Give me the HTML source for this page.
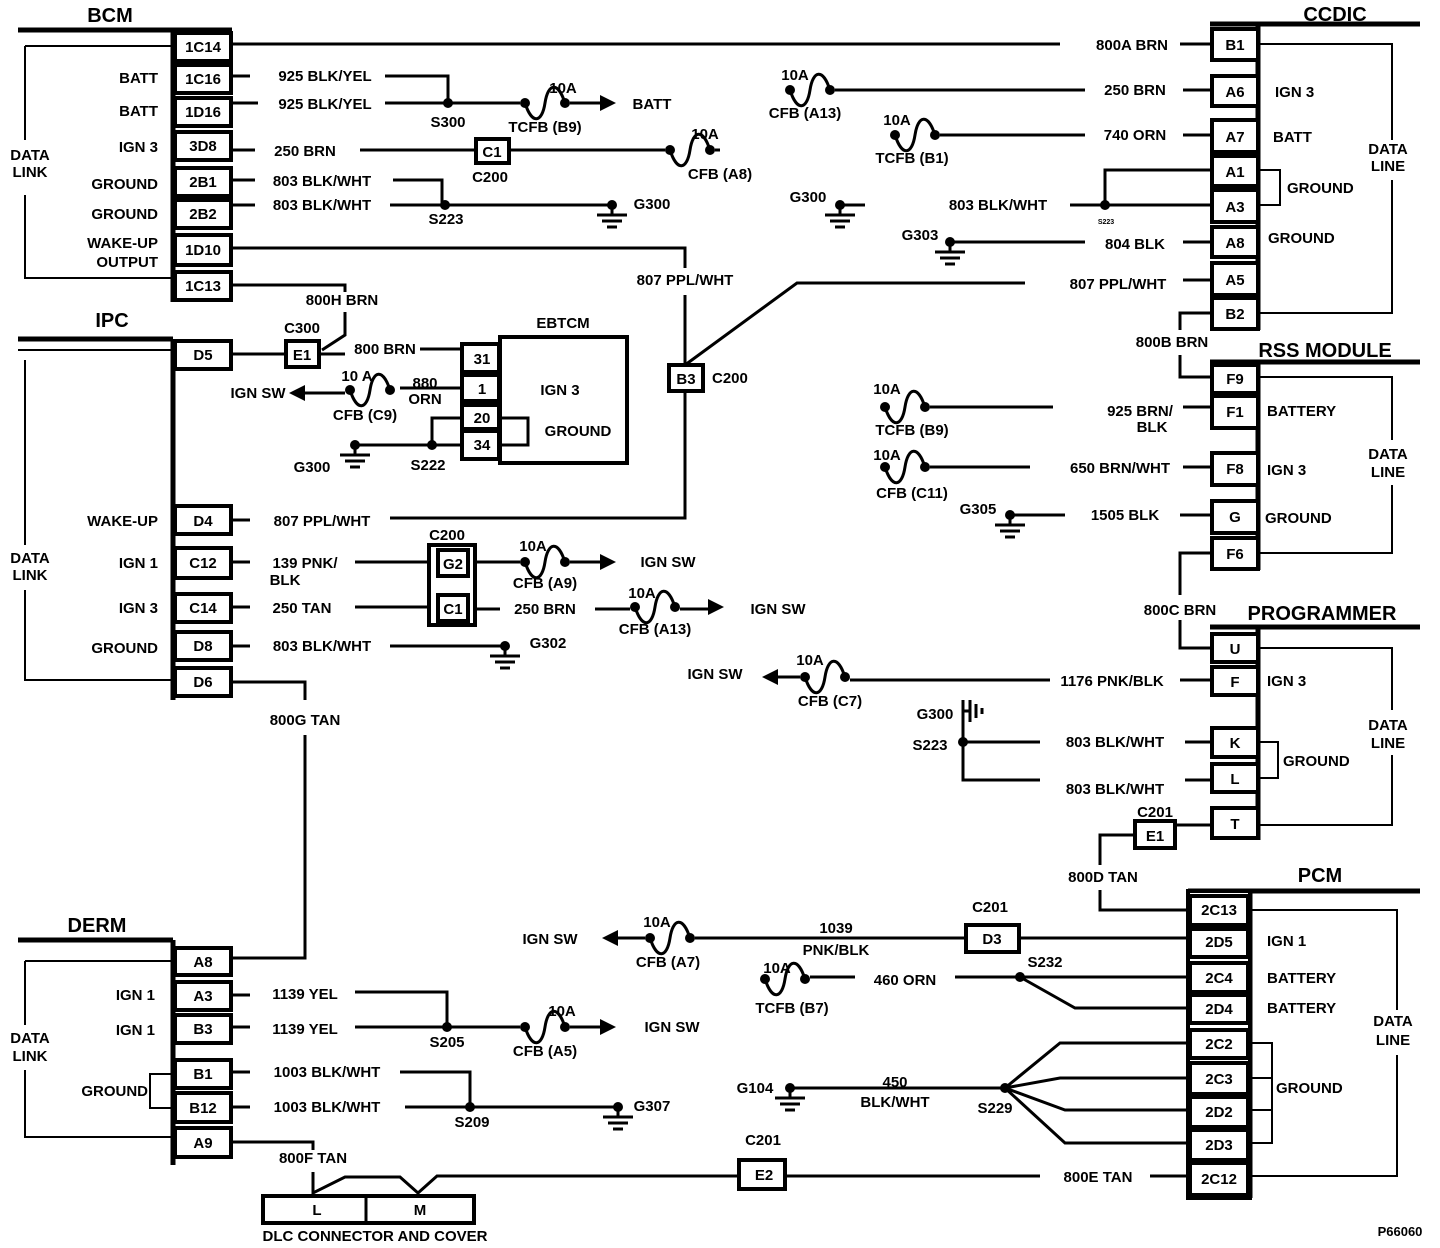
<!DOCTYPE html>
<html><head><meta charset="utf-8"><style>
html,body{margin:0;padding:0;background:#fff}
svg{display:block}
text{font-family:"Liberation Sans",sans-serif;font-weight:bold;font-size:15px;fill:#000}
.t{text-anchor:middle}
.h{font-size:20px}
.w{stroke:#000;stroke-width:3;fill:none}
.n{stroke:#000;stroke-width:2;fill:none}
.tk{stroke:#000;stroke-width:5;fill:none}
.p{fill:#fff;stroke:#000;stroke-width:4}
</style></head><body>
<svg width="1440" height="1248" viewBox="0 0 1440 1248" xmlns="http://www.w3.org/2000/svg">
<defs>
<g id="fz"><circle cx="5" cy="0" r="5"/><circle cx="45" cy="0" r="5"/><path d="M5,0 C12,22 22,20 25,0 C28,-20 38,-22 45,0" stroke="#000" stroke-width="3" fill="none"/></g>
<g id="gd"><circle cx="0" cy="0" r="5"/><path d="M0,0V10M-15,10H15M-10,16H10M-5,22H5" stroke="#000" stroke-width="3" fill="none"/></g>
<polygon id="ar" points="0,-8 16,0 0,8"/>
<polygon id="al" points="0,-8 -16,0 0,8"/>
</defs>

<!-- ===== BCM ===== -->
<text class="t h" x="110" y="22">BCM</text>
<path class="tk" d="M18,30H232"/>
<path class="tk" d="M173,30V302"/>
<path class="n" d="M25,46H173M25,46V140M25,195V278H173"/>
<text class="t" x="30" y="160">DATA</text><text class="t" x="30" y="177">LINK</text>
<g>
<rect class="p" x="175" y="33" width="56" height="28"/><text class="t" x="203" y="52">1C14</text>
<rect class="p" x="175" y="65" width="56" height="28"/><text class="t" x="203" y="84">1C16</text>
<rect class="p" x="175" y="98" width="56" height="28"/><text class="t" x="203" y="117">1D16</text>
<rect class="p" x="175" y="132" width="56" height="28"/><text class="t" x="203" y="151">3D8</text>
<rect class="p" x="175" y="168" width="56" height="28"/><text class="t" x="203" y="187">2B1</text>
<rect class="p" x="175" y="200" width="56" height="28"/><text class="t" x="203" y="219">2B2</text>
<rect class="p" x="175" y="235" width="56" height="30"/><text class="t" x="203" y="255">1D10</text>
<rect class="p" x="175" y="272" width="56" height="28"/><text class="t" x="203" y="291">1C13</text>
</g>
<text x="158" y="83" text-anchor="end">BATT</text>
<text x="158" y="116" text-anchor="end">BATT</text>
<text x="158" y="152" text-anchor="end">IGN 3</text>
<text x="158" y="189" text-anchor="end">GROUND</text>
<text x="158" y="219" text-anchor="end">GROUND</text>
<text x="158" y="248" text-anchor="end">WAKE-UP</text>
<text x="158" y="267" text-anchor="end">OUTPUT</text>

<path class="w" d="M231,44H1060"/>
<path class="w" d="M231,76H250M385,76H448V103M231,103H258M385,103H520M570,103H600"/>
<text class="t" x="325" y="81">925 BLK/YEL</text><text class="t" x="325" y="109">925 BLK/YEL</text>
<circle cx="448" cy="103" r="5"/><text class="t" x="448" y="127">S300</text>
<use href="#fz" x="520" y="103"/><text class="t" x="563" y="93">10A</text><text class="t" x="545" y="132">TCFB (B9)</text>
<use href="#ar" x="600" y="103"/><text class="t" x="652" y="109">BATT</text>

<path class="w" d="M231,150H255M360,150H475M510,150H665M715,150H720"/>
<text class="t" x="305" y="156">250 BRN</text>
<rect class="p" x="476" y="139" width="33" height="24"/><text class="t" x="492" y="157">C1</text>
<text class="t" x="490" y="182">C200</text>
<use href="#fz" x="665" y="150"/><text class="t" x="705" y="139">10A</text><text class="t" x="720" y="179">CFB (A8)</text>

<path class="w" d="M231,180H255M393,180H442V205M231,205H255M390,205H612"/>
<text class="t" x="322" y="186">803 BLK/WHT</text><text class="t" x="322" y="210">803 BLK/WHT</text>
<circle cx="445" cy="205" r="5"/><text class="t" x="446" y="224">S223</text>
<use href="#gd" x="612" y="205"/><text class="t" x="652" y="209">G300</text>

<path class="w" d="M231,248H685V268M685,295V365"/>
<text class="t" x="685" y="285">807 PPL/WHT</text>
<path class="w" d="M231,285H345V292M345,312V335L322,350"/>
<text class="t" x="342" y="305">800H BRN</text>

<!-- B3 C200 -->
<rect class="p" x="669" y="365" width="34" height="26"/><text class="t" x="686" y="384">B3</text>
<text x="712" y="383">C200</text>
<path class="w" d="M685,365L797,283H1025"/>
<path class="w" d="M685,391V518H390"/>

<!-- ===== IPC ===== -->
<text class="t h" x="112" y="327">IPC</text>
<path class="tk" d="M18,339H173"/><path class="n" d="M18,350H173"/>
<path class="tk" d="M173,339V700"/>
<path class="n" d="M25,360V545M25,590V680H173"/>
<text class="t" x="30" y="563">DATA</text><text class="t" x="30" y="580">LINK</text>
<rect class="p" x="175" y="341" width="56" height="28"/><text class="t" x="203" y="360">D5</text>
<rect class="p" x="175" y="506" width="56" height="28"/><text class="t" x="203" y="526">D4</text>
<rect class="p" x="175" y="548" width="56" height="30"/><text class="t" x="203" y="568">C12</text>
<rect class="p" x="175" y="594" width="56" height="28"/><text class="t" x="203" y="613">C14</text>
<rect class="p" x="175" y="632" width="56" height="28"/><text class="t" x="203" y="651">D8</text>
<rect class="p" x="175" y="668" width="56" height="28"/><text class="t" x="203" y="687">D6</text>
<text x="158" y="526" text-anchor="end">WAKE-UP</text>
<text x="158" y="568" text-anchor="end">IGN 1</text>
<text x="158" y="613" text-anchor="end">IGN 3</text>
<text x="158" y="653" text-anchor="end">GROUND</text>

<path class="w" d="M231,354H286M319,354H345"/>
<rect class="p" x="286" y="341" width="33" height="26"/><text class="t" x="302" y="360">E1</text>
<text class="t" x="302" y="333">C300</text>
<text class="t" x="385" y="354">800 BRN</text>
<path class="w" d="M420,349H462"/>

<!-- EBTCM -->
<text class="t" x="563" y="328">EBTCM</text>
<rect x="500" y="337" width="127" height="126" fill="#fff" stroke="#000" stroke-width="4"/>
<rect class="p" x="462" y="344" width="37" height="28"/><text class="t" x="482" y="364">31</text>
<rect class="p" x="462" y="375" width="37" height="26"/><text class="t" x="482" y="394">1</text>
<rect class="p" x="462" y="405" width="37" height="24"/><text class="t" x="482" y="423">20</text>
<rect class="p" x="462" y="431" width="37" height="28"/><text class="t" x="482" y="450">34</text>
<text class="t" x="560" y="395">IGN  3</text>
<text class="t" x="578" y="436">GROUND</text>
<path class="w" d="M500,418H528V445H500"/>
<path class="w" d="M462,388H400M345,393H300"/>
<use href="#fz" x="345" y="390"/>
<use href="#al" x="305" y="393"/>
<text class="t" x="357" y="381">10 A</text><text class="t" x="365" y="420">CFB (C9)</text>
<text class="t" x="425" y="388">880</text><text class="t" x="425" y="404">ORN</text>
<text class="t" x="258" y="398">IGN SW</text>
<path class="w" d="M462,418H432V445M462,445H355"/>
<circle cx="432" cy="445" r="5"/><text class="t" x="428" y="470">S222</text>
<use href="#gd" x="355" y="445"/><text class="t" x="312" y="472">G300</text>

<path class="w" d="M231,520H250"/>
<text class="t" x="322" y="526">807 PPL/WHT</text>

<path class="w" d="M231,562H250M355,562H428M231,607H250M355,607H428"/>
<text class="t" x="305" y="568">139 PNK/</text><text class="t" x="285" y="585">BLK</text>
<text class="t" x="302" y="613">250 TAN</text>
<rect x="429" y="545" width="46" height="80" fill="#fff" stroke="#000" stroke-width="4"/>
<rect class="p" x="438" y="550" width="30" height="26"/><text class="t" x="453" y="569">G2</text>
<rect class="p" x="438" y="595" width="30" height="26"/><text class="t" x="453" y="614">C1</text>
<text class="t" x="447" y="540">C200</text>
<path class="w" d="M475,562H520M570,562H600"/>
<use href="#fz" x="520" y="562"/><use href="#ar" x="600" y="562"/>
<text class="t" x="533" y="551">10A</text><text class="t" x="545" y="588">CFB (A9)</text>
<text class="t" x="668" y="567">IGN SW</text>
<path class="w" d="M475,609H500M595,609H630M680,609H708"/>
<text class="t" x="545" y="614">250 BRN</text>
<use href="#fz" x="630" y="607"/><use href="#ar" x="708" y="607"/>
<text class="t" x="642" y="598">10A</text><text class="t" x="655" y="634">CFB (A13)</text>
<text class="t" x="778" y="614">IGN SW</text>

<path class="w" d="M231,646H250M390,646H505"/>
<text class="t" x="322" y="651">803 BLK/WHT</text>
<use href="#gd" x="505" y="646"/><text class="t" x="548" y="648">G302</text>

<path class="w" d="M231,682H305V700M305,735V958H231"/>
<text class="t" x="305" y="725">800G TAN</text>

<!-- ===== DERM ===== -->
<text class="t h" x="97" y="932">DERM</text>
<path class="tk" d="M18,940H173"/>
<path class="tk" d="M173,940V1165"/>
<path class="n" d="M25,961H173M25,961V1025M25,1070V1137H173"/>
<text class="t" x="30" y="1043">DATA</text><text class="t" x="30" y="1061">LINK</text>
<rect class="p" x="175" y="948" width="56" height="27"/><text class="t" x="203" y="967">A8</text>
<rect class="p" x="175" y="982" width="56" height="28"/><text class="t" x="203" y="1001">A3</text>
<rect class="p" x="175" y="1015" width="56" height="28"/><text class="t" x="203" y="1034">B3</text>
<rect class="p" x="175" y="1060" width="56" height="28"/><text class="t" x="203" y="1079">B1</text>
<rect class="p" x="175" y="1093" width="56" height="29"/><text class="t" x="203" y="1113">B12</text>
<rect class="p" x="175" y="1128" width="56" height="29"/><text class="t" x="203" y="1148">A9</text>
<text x="155" y="1000" text-anchor="end">IGN 1</text>
<text x="155" y="1035" text-anchor="end">IGN 1</text>
<text x="148" y="1096" text-anchor="end">GROUND</text>
<path class="n" d="M173,1074H150V1108H173"/>

<path class="w" d="M231,995H250M355,992H447V1027M231,1027H250M355,1027H520M570,1027H600"/>
<text class="t" x="305" y="999">1139 YEL</text><text class="t" x="305" y="1034">1139 YEL</text>
<circle cx="447" cy="1027" r="5"/><text class="t" x="447" y="1047">S205</text>
<use href="#fz" x="520" y="1027"/><use href="#ar" x="600" y="1027"/>
<text class="t" x="562" y="1016">10A</text><text class="t" x="545" y="1056">CFB (A5)</text>
<text class="t" x="672" y="1032">IGN SW</text>

<path class="w" d="M231,1072H250M400,1072H470V1107M231,1107H250M405,1107H618"/>
<text class="t" x="327" y="1077">1003 BLK/WHT</text><text class="t" x="327" y="1112">1003 BLK/WHT</text>
<circle cx="470" cy="1107" r="5"/><text class="t" x="472" y="1127">S209</text>
<use href="#gd" x="618" y="1107"/><text class="t" x="652" y="1111">G307</text>

<path class="w" d="M231,1142H313V1150M313,1172V1193L345,1177H400L418,1193L437,1176H738"/>
<text class="t" x="313" y="1163">800F TAN</text>
<rect x="263" y="1196" width="211" height="27" fill="#fff" stroke="#000" stroke-width="4"/>
<path class="w" d="M366,1196V1223"/>
<text class="t" x="317" y="1215">L</text><text class="t" x="420" y="1215">M</text>
<text class="t" x="375" y="1241">DLC CONNECTOR AND COVER</text>
<rect class="p" x="739" y="1160" width="46" height="29"/><text class="t" x="764" y="1180">E2</text>
<text class="t" x="763" y="1145">C201</text>
<path class="w" d="M785,1176H1040M1150,1176H1190"/>
<text class="t" x="1098" y="1182">800E TAN</text>

<!-- ===== CCDIC ===== -->
<text class="t h" x="1335" y="21">CCDIC</text>
<path class="tk" d="M1210,24H1420"/>
<path class="tk" d="M1258,24V330"/>
<path class="n" d="M1258,44H1392V140M1392,180V313H1258"/>
<text class="t" x="1388" y="154">DATA</text><text class="t" x="1388" y="171">LINE</text>
<rect class="p" x="1212" y="29" width="46" height="31"/><text class="t" x="1235" y="50">B1</text>
<rect class="p" x="1212" y="76" width="46" height="30"/><text class="t" x="1235" y="97">A6</text>
<rect class="p" x="1212" y="120" width="46" height="32"/><text class="t" x="1235" y="142">A7</text>
<rect class="p" x="1212" y="156" width="46" height="30"/><text class="t" x="1235" y="177">A1</text>
<rect class="p" x="1212" y="190" width="46" height="32"/><text class="t" x="1235" y="212">A3</text>
<rect class="p" x="1212" y="227" width="46" height="30"/><text class="t" x="1235" y="248">A8</text>
<rect class="p" x="1212" y="263" width="46" height="32"/><text class="t" x="1235" y="285">A5</text>
<rect class="p" x="1212" y="298" width="46" height="31"/><text class="t" x="1235" y="319">B2</text>
<text x="1275" y="97">IGN 3</text>
<text x="1273" y="142">BATT</text>
<text x="1287" y="193">GROUND</text>
<text x="1268" y="243">GROUND</text>
<path class="n" d="M1258,170H1280V205H1258"/>

<text class="t" x="1132" y="50">800A BRN</text><path class="w" d="M1180,44H1212"/>
<use href="#fz" x="785" y="90"/><path class="w" d="M835,90H1085M1183,90H1212"/>
<text class="t" x="795" y="80">10A</text><text class="t" x="805" y="118">CFB (A13)</text>
<text class="t" x="1135" y="95">250 BRN</text>
<use href="#fz" x="890" y="135"/><path class="w" d="M940,135H1085M1183,135H1212"/>
<text class="t" x="897" y="125">10A</text><text class="t" x="912" y="163">TCFB (B1)</text>
<text class="t" x="1135" y="140">740 ORN</text>
<path class="w" d="M1212,170H1105V205M840,205H865M1070,205H1212"/>
<circle cx="1105" cy="205" r="5"/><text class="t" x="1106" y="224" style="font-size:7px">S223</text>
<use href="#gd" x="840" y="205"/><text class="t" x="808" y="202">G300</text>
<text class="t" x="998" y="210">803 BLK/WHT</text>
<use href="#gd" x="950" y="242"/><path class="w" d="M950,242H1085M1183,242H1212"/>
<text class="t" x="920" y="240">G303</text><text class="t" x="1135" y="249">804 BLK</text>
<text class="t" x="1118" y="289">807 PPL/WHT</text><path class="w" d="M1183,280H1212"/>
<path class="w" d="M1212,313H1180V330M1180,355V377H1212"/>
<text class="t" x="1172" y="347">800B BRN</text>

<!-- ===== RSS ===== -->
<text class="t h" x="1325" y="357">RSS MODULE</text>
<path class="tk" d="M1210,362H1420"/>
<path class="tk" d="M1258,362V570"/>
<path class="n" d="M1258,377H1392V440M1392,485V553H1258"/>
<text class="t" x="1388" y="459">DATA</text><text class="t" x="1388" y="477">LINE</text>
<rect class="p" x="1212" y="365" width="46" height="28"/><text class="t" x="1235" y="384">F9</text>
<rect class="p" x="1212" y="396" width="46" height="32"/><text class="t" x="1235" y="417">F1</text>
<rect class="p" x="1212" y="453" width="46" height="32"/><text class="t" x="1235" y="474">F8</text>
<rect class="p" x="1212" y="501" width="46" height="32"/><text class="t" x="1235" y="522">G</text>
<rect class="p" x="1212" y="538" width="46" height="31"/><text class="t" x="1235" y="559">F6</text>
<text x="1267" y="416">BATTERY</text>
<text x="1267" y="475">IGN 3</text>
<text x="1265" y="523">GROUND</text>
<use href="#fz" x="880" y="407"/><path class="w" d="M930,407H1053M1183,407H1212"/>
<text class="t" x="887" y="394">10A</text><text class="t" x="912" y="435">TCFB (B9)</text>
<text class="t" x="1140" y="416">925 BRN/</text><text class="t" x="1152" y="432">BLK</text>
<use href="#fz" x="880" y="467"/><path class="w" d="M930,467H1030M1183,467H1212"/>
<text class="t" x="887" y="460">10A</text><text class="t" x="912" y="498">CFB (C11)</text>
<text class="t" x="1120" y="473">650 BRN/WHT</text>
<use href="#gd" x="1010" y="515"/><path class="w" d="M1010,515H1065M1180,515H1212"/>
<text class="t" x="978" y="514">G305</text><text class="t" x="1125" y="520">1505 BLK</text>
<path class="w" d="M1212,553H1180V595M1180,620V648H1212"/>
<text class="t" x="1180" y="615">800C BRN</text>

<!-- ===== PROGRAMMER ===== -->
<text class="t h" x="1322" y="620">PROGRAMMER</text>
<path class="tk" d="M1210,627H1420"/>
<path class="tk" d="M1258,627V840"/>
<path class="n" d="M1258,648H1392V710M1392,755V825H1258"/>
<text class="t" x="1388" y="730">DATA</text><text class="t" x="1388" y="748">LINE</text>
<rect class="p" x="1212" y="634" width="46" height="28"/><text class="t" x="1235" y="654">U</text>
<rect class="p" x="1212" y="667" width="46" height="28"/><text class="t" x="1235" y="687">F</text>
<rect class="p" x="1212" y="728" width="46" height="29"/><text class="t" x="1235" y="748">K</text>
<rect class="p" x="1212" y="764" width="46" height="28"/><text class="t" x="1235" y="784">L</text>
<rect class="p" x="1212" y="808" width="46" height="30"/><text class="t" x="1235" y="829">T</text>
<text x="1267" y="686">IGN 3</text>
<text x="1283" y="766">GROUND</text>
<path class="n" d="M1258,742H1278V778H1258"/>
<path class="w" d="M1212,680H1180M1050,680H850M800,677H778"/>
<text class="t" x="1112" y="686">1176 PNK/BLK</text>
<use href="#fz" x="800" y="677"/><use href="#al" x="778" y="677"/>
<text class="t" x="810" y="665">10A</text><text class="t" x="830" y="706">CFB (C7)</text>
<text class="t" x="715" y="679">IGN SW</text>
<path class="w" d="M963,700V780H1040M963,742H1040M1185,742H1212M1185,780H1212"/>
<circle cx="963" cy="742" r="5"/>
<path d="M970,700V722M976,704V718M982,708V714" stroke="#000" stroke-width="3"/>
<path class="w" d="M963,711H970"/>
<text class="t" x="935" y="719">G300</text><text class="t" x="930" y="750">S223</text>
<text class="t" x="1115" y="747">803 BLK/WHT</text><text class="t" x="1115" y="794">803 BLK/WHT</text>
<path class="w" d="M1212,825H1175M1134,835H1100V865M1100,890V910H1190"/>
<rect class="p" x="1135" y="821" width="40" height="27"/><text class="t" x="1155" y="841">E1</text>
<text class="t" x="1155" y="817">C201</text>
<text class="t" x="1103" y="882">800D TAN</text>

<!-- ===== PCM ===== -->
<text class="t h" x="1320" y="882">PCM</text>
<path class="tk" d="M1188,891H1420"/>
<path class="tk" d="M1250,891V1198"/>
<rect x="1188" y="891" width="62" height="307" fill="#fff" stroke="#000" stroke-width="4"/>
<g>
<rect class="p" x="1190" y="896" width="58" height="29"/><text class="t" x="1219" y="915">2C13</text>
<rect class="p" x="1190" y="929" width="58" height="28"/><text class="t" x="1219" y="947">2D5</text>
<rect class="p" x="1190" y="963" width="58" height="29"/><text class="t" x="1219" y="983">2C4</text>
<rect class="p" x="1190" y="995" width="58" height="28"/><text class="t" x="1219" y="1014">2D4</text>
<rect class="p" x="1190" y="1030" width="58" height="28"/><text class="t" x="1219" y="1049">2C2</text>
<rect class="p" x="1190" y="1063" width="58" height="31"/><text class="t" x="1219" y="1084">2C3</text>
<rect class="p" x="1190" y="1097" width="58" height="30"/><text class="t" x="1219" y="1117">2D2</text>
<rect class="p" x="1190" y="1130" width="58" height="30"/><text class="t" x="1219" y="1150">2D3</text>
<rect class="p" x="1190" y="1163" width="58" height="32"/><text class="t" x="1219" y="1184">2C12</text>
</g>
<path class="n" d="M1250,910H1397V1010M1397,1055V1176H1250"/>
<text class="t" x="1393" y="1026">DATA</text><text class="t" x="1393" y="1045">LINE</text>
<text x="1267" y="946">IGN 1</text>
<text x="1267" y="983">BATTERY</text>
<text x="1267" y="1013">BATTERY</text>
<text x="1276" y="1093">GROUND</text>
<path class="n" d="M1250,1043H1272V1143H1250M1250,1078H1272M1250,1110H1272"/>

<path class="w" d="M1190,938H1020M965,938H695M645,938H618"/>
<rect class="p" x="966" y="925" width="53" height="27"/><text class="t" x="992" y="944">D3</text>
<text class="t" x="990" y="912">C201</text>
<text class="t" x="836" y="933">1039</text><text class="t" x="836" y="955">PNK/BLK</text>
<use href="#fz" x="645" y="938"/><use href="#al" x="618" y="938"/>
<text class="t" x="657" y="927">10A</text><text class="t" x="668" y="967">CFB (A7)</text>
<text class="t" x="550" y="944">IGN SW</text>
<path class="w" d="M1190,977H1020M1190,1008H1075L1020,977M955,977H1020M810,977H855"/>
<circle cx="1020" cy="977" r="5"/><text class="t" x="1045" y="967">S232</text>
<text class="t" x="905" y="985">460 ORN</text>
<use href="#fz" x="760" y="979"/>
<text class="t" x="777" y="973">10A</text><text class="t" x="792" y="1013">TCFB (B7)</text>
<use href="#gd" x="790" y="1088"/>
<path class="w" d="M790,1088H1005L1060,1043H1190M1005,1088L1060,1078H1190M1005,1088L1065,1110H1190M1005,1088L1065,1143H1190"/>
<circle cx="1005" cy="1088" r="5"/>
<text class="t" x="755" y="1093">G104</text>
<text class="t" x="895" y="1087">450</text><text class="t" x="895" y="1107">BLK/WHT</text>
<text class="t" x="995" y="1113">S229</text>

<text class="t" x="1400" y="1236" style="font-size:13px">P66060</text>
</svg>
</body></html>
